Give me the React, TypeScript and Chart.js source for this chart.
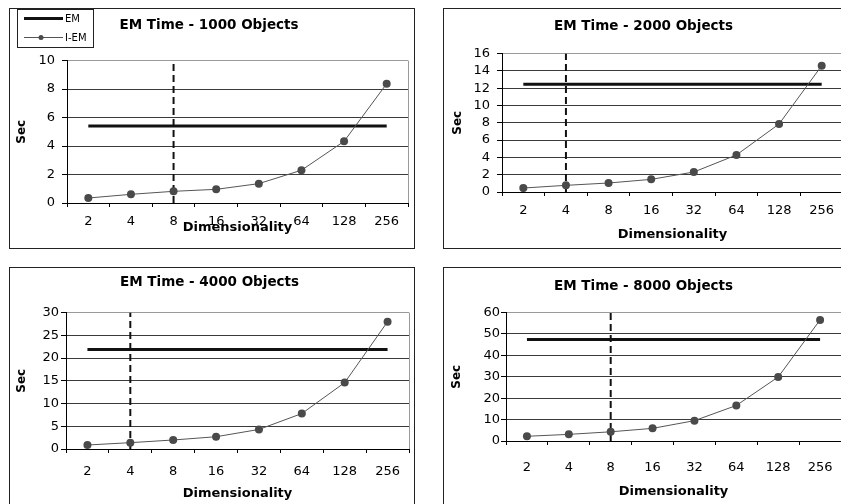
import React, { useEffect, useRef } from 'react';
import { Chart, registerables } from 'chart.js';

Chart.register(...registerables);

// ---- data ----
const dimensions = ['2', '4', '8', '16', '32', '64', '128', '256'];

const titles = ['EM Time - 1000 Objects', 'EM Time - 2000 Objects', 'EM Time - 4000 Objects', 'EM Time - 8000 Objects'];

const iem1000 = [0.35, 0.61, 0.82, 0.96, 1.36, 2.3, 4.33, 8.38];
const iem2000 = [0.46, 0.77, 1.04, 1.46, 2.31, 4.28, 7.86, 14.6];
const iem4000 = [0.88, 1.39, 1.98, 2.7, 4.3, 7.8, 14.6, 28.0];
const iem8000 = [2.2, 3.1, 4.3, 5.9, 9.5, 16.6, 29.9, 56.6];

const em1000 = [5.4, 5.4, 5.4, 5.4, 5.4, 5.4, 5.4, 5.4];
const em2000 = [12.45, 12.45, 12.45, 12.45, 12.45, 12.45, 12.45, 12.45];
const em4000 = [21.9, 21.9, 21.9, 21.9, 21.9, 21.9, 21.9, 21.9];
const em8000 = [47.4, 47.4, 47.4, 47.4, 47.4, 47.4, 47.4, 47.4];

const cutoffDims = ['8', '4', '4', '8'];
const yMaxes = [10, 16, 30, 60];
const ySteps = [2, 2, 5, 10];

const seriesNames = ['EM', 'I-EM'];
const xTitle = 'Dimensionality';
const yTitle = 'Sec';

// ---- layout (positions / sizes) ----
type Layout = {
  left: number; top: number; legend: boolean;
  yWidth: number; xHeight: number; padRight: number;
  titleTop: number; titleBottom: number; yTitlePad: number; yTickPad: number;
  xTickPad: number; xTitleBottom: number;
};

const layouts: Layout[] = [
  { left: 9, top: 8, legend: true, yWidth: 57, xHeight: 45, padRight: 6, titleTop: 8.2, titleBottom: 27.2, yTitlePad: 4.8, yTickPad: 7, xTickPad: 7.2, xTitleBottom: 12.7 },
  { left: 443, top: 8, legend: false, yWidth: 58, xHeight: 56, padRight: 5, titleTop: 9.2, titleBottom: 19.2, yTitlePad: 6.3, yTickPad: 7, xTickPad: 7.2, xTitleBottom: 5.2 },
  { left: 9, top: 267, legend: false, yWidth: 56, xHeight: 58, padRight: 5, titleTop: 6.2, titleBottom: 22.2, yTitlePad: 4.5, yTickPad: 2, xTickPad: 11.2, xTitleBottom: 5.2 },
  { left: 443, top: 267, legend: false, yWidth: 62, xHeight: 66, padRight: 5, titleTop: 10.2, titleBottom: 18.2, yTitlePad: 5.5, yTickPad: 1, xTickPad: 15.2, xTitleBottom: 7.2 },
];

const iemSeries = [iem1000, iem2000, iem4000, iem8000];
const emSeries = [em1000, em2000, em4000, em8000];

const FONT = 'DejaVu Sans';
const CANVAS_W = 404;
const CANVAS_H = 239;

const framePlugin = {
  id: 'plotFrame',
  beforeDatasetsDraw(chart: any) {
    const { ctx, chartArea } = chart;
    const x = Math.round(chartArea.right) + 0.5;
    ctx.save();
    ctx.strokeStyle = '#9a9a9a';
    ctx.lineWidth = 1;
    ctx.beginPath();
    ctx.moveTo(x, chartArea.top);
    ctx.lineTo(x, chartArea.bottom);
    ctx.stroke();
    ctx.restore();
  },
};

const boxLegendPlugin = {
  id: 'boxLegend',
  afterDraw(chart: any, _args: any, opts: any) {
    if (!opts || !opts.display) return;
    const { ctx } = chart;
    const ds = chart.data.datasets;
    ctx.save();
    ctx.strokeStyle = '#222';
    ctx.lineWidth = 1;
    ctx.strokeRect(7.5, 0.5, 76, 38);
    ctx.font = `10px "${FONT}"`;
    ctx.fillStyle = '#000';
    ctx.textBaseline = 'middle';
    ctx.textAlign = 'left';
    const rows = [ds[1], ds[0]];
    const ys = [9.5, 28.5];
    rows.forEach((d: any, i: number) => {
      const y = ys[i];
      ctx.strokeStyle = d.borderColor;
      ctx.lineWidth = d.borderWidth;
      ctx.beginPath();
      ctx.moveTo(14, y);
      ctx.lineTo(53, y);
      ctx.stroke();
      if (d.pointRadius > 0) {
        ctx.fillStyle = d.pointBackgroundColor;
        ctx.beginPath();
        ctx.arc(31, y, 2.5, 0, Math.PI * 2);
        ctx.fill();
      }
      ctx.fillStyle = '#000';
      ctx.fillText(d.label, 55, y + 0.5);
    });
    ctx.restore();
  },
};

function Panel({ idx }: { idx: number }) {
  const ref = useRef<HTMLCanvasElement | null>(null);
  const L = layouts[idx];
  useEffect(() => {
    if (!ref.current) return;
    const yMax = yMaxes[idx];
    const chart = new Chart(ref.current, {
      type: 'line',
      data: {
        labels: dimensions,
        datasets: [
          {
            label: seriesNames[1],
            data: iemSeries[idx],
            borderColor: '#555',
            borderWidth: 1,
            pointRadius: 4,
            pointBackgroundColor: '#4a4a4a',
            pointBorderWidth: 0,
            pointHoverRadius: 4,
            order: 0,
          } as any,
          {
            label: seriesNames[0],
            data: emSeries[idx],
            borderColor: '#111',
            borderWidth: 3,
            pointRadius: 0,
            order: 1,
          },
          {
            label: 'cutoff',
            data: [{ x: cutoffDims[idx], y: 0 }, { x: cutoffDims[idx], y: yMax }],
            borderColor: '#111',
            borderWidth: 2,
            borderDash: [7, 4],
            pointRadius: 0,
            order: 2,
          } as any,
        ],
      },
      options: {
        animation: false,
        responsive: false,
        devicePixelRatio: 1,
        events: [],
        layout: { padding: { left: 0, right: L.padRight, top: 0, bottom: 0 } },
        plugins: {
          legend: { display: false },
          tooltip: { enabled: false },
          title: {
            display: true,
            text: titles[idx],
            color: '#000',
            font: { family: FONT, size: 13.5, weight: 'bold' },
            padding: { top: L.titleTop, bottom: L.titleBottom },
          },
          boxLegend: { display: L.legend },
        } as any,
        scales: {
          x: {
            type: 'category',
            offset: true,
            grid: {
              offset: true,
              drawOnChartArea: false,
              drawTicks: true,
              tickLength: 4,
              tickColor: '#000',
            },
            border: { display: true, color: '#000', width: 1 },
            ticks: {
              color: '#000',
              font: { family: FONT, size: 13 },
              padding: L.xTickPad,
              maxRotation: 0,
              autoSkip: false,
            },
            title: {
              display: true,
              text: xTitle,
              color: '#000',
              font: { family: FONT, size: 13, weight: 'bold' },
              padding: { top: 0, bottom: L.xTitleBottom },
            },
            afterFit: (s: any) => { s.height = L.xHeight; },
          },
          y: {
            min: 0,
            max: yMax,
            grid: {
              color: (c: any) => (c.tick && c.tick.value === yMax ? '#9a9a9a' : '#3a3a3a'),
              lineWidth: 1,
              drawTicks: true,
              tickLength: 5,
              tickColor: '#000',
            },
            border: { display: true, color: '#000', width: 1 },
            ticks: {
              stepSize: ySteps[idx],
              autoSkip: false,
              maxTicksLimit: 20,
              color: '#000',
              font: { family: FONT, size: 13, lineHeight: 1 },
              padding: L.yTickPad,
            },
            title: {
              display: true,
              text: yTitle,
              color: '#000',
              font: { family: FONT, size: 12, weight: 'bold' },
              padding: { top: L.yTitlePad, bottom: 0 },
            },
            afterFit: (s: any) => { s.width = L.yWidth; },
          },
        },
      },
      plugins: [framePlugin, boxLegendPlugin],
    });
    return () => chart.destroy();
  }, [idx]);

  return (
    <div
      style={{
        position: 'absolute',
        left: L.left,
        top: L.top,
        width: CANVAS_W,
        height: CANVAS_H,
        border: '1px solid #222',
        background: '#fff',
      }}
    >
      <canvas ref={ref} width={CANVAS_W} height={CANVAS_H} style={{ display: 'block' }} />
    </div>
  );
}

export default function App() {
  return (
    <div
      style={{
        position: 'absolute',
        left: 0,
        top: 0,
        width: 841,
        height: 504,
        overflow: 'hidden',
        background: '#fff',
      }}
    >
      {[0, 1, 2, 3].map((i) => (
        <Panel key={i} idx={i} />
      ))}
    </div>
  );
}
